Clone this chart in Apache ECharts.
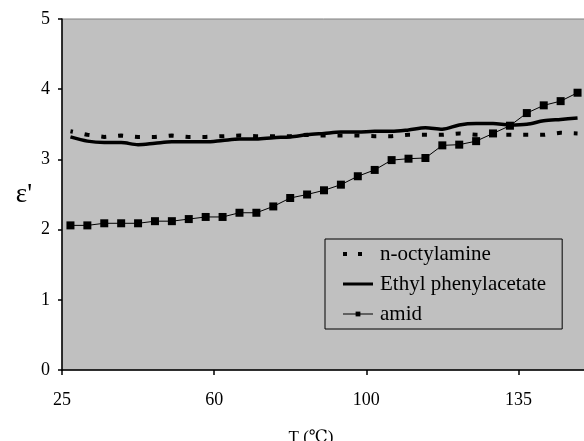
<!DOCTYPE html>
<html>
<head>
<meta charset="utf-8">
<script src="https://cdn.jsdelivr.net/npm/echarts@6/dist/echarts.min.js"></script>
<style>
  html, body { margin: 0; padding: 0; background: #fff; }
  #chart { width: 584px; height: 441px; }
</style>
</head>
<body>
<div id="chart"></div>
<script>
// x tick labels sit on the band boundaries 0, 9, 18, 27 (31 measurement points)
const TICK_LABELS = ['25', '60', '100', '135'];
const TICK_STEP = 9;
const POINT_COUNT = 31;

const OCTYLAMINE = [3.40, 3.35, 3.32, 3.34, 3.32, 3.32, 3.34, 3.32, 3.32, 3.33, 3.34,
  3.33, 3.33, 3.33, 3.35, 3.34, 3.34, 3.34, 3.33, 3.33, 3.35, 3.35, 3.35, 3.37,
  3.35, 3.35, 3.35, 3.35, 3.35, 3.38, 3.37];
const ETHYL = [3.32, 3.26, 3.24, 3.24, 3.21, 3.23, 3.25, 3.25, 3.25, 3.27, 3.29,
  3.29, 3.31, 3.32, 3.35, 3.37, 3.39, 3.39, 3.40, 3.40, 3.42, 3.45, 3.43, 3.49,
  3.51, 3.51, 3.49, 3.50, 3.55, 3.57, 3.59];
const AMID = [2.06, 2.06, 2.09, 2.09, 2.09, 2.12, 2.12, 2.15, 2.18, 2.18, 2.24,
  2.24, 2.33, 2.45, 2.50, 2.56, 2.64, 2.76, 2.85, 2.99, 3.01, 3.02, 3.20, 3.21,
  3.26, 3.37, 3.48, 3.66, 3.77, 3.83, 3.95];

const FONT = "'Liberation Serif', 'DejaVu Serif', serif";

// each point is drawn at the centre of its band
const toPoints = (arr) => arr.map((v, i) => [i + 0.5, v]);

const chart = echarts.init(document.getElementById('chart'), null, { renderer: 'canvas' });
chart.setOption({
  animation: false,
  backgroundColor: '#fff',
  grid: {
    left: 62, right: -2, top: 19, bottom: 71,
    outerBoundsMode: 'none',
    containLabel: false,
    show: true,
    backgroundColor: '#c0c0c0',
    borderColor: '#808080',
    borderWidth: 1
  },
  legend: {
    orient: 'vertical',
    left: 325,
    top: 239,
    padding: [4, 16, 4, 16],
    itemGap: 8,
    itemWidth: 30,
    itemHeight: 6,
    backgroundColor: '#c0c0c0',
    borderColor: '#000',
    borderWidth: 1,
    borderRadius: 0,
    textStyle: { fontFamily: FONT, fontSize: 21, color: '#000', lineHeight: 22, padding: [0, 0, 0, 2] },
    data: [
      {
        name: 'n-octylamine',
        itemStyle: { opacity: 0 },
        lineStyle: { type: [4, 11], dashOffset: 0, width: 4 }
      },
      { name: 'Ethyl phenylacetate', itemStyle: { opacity: 0 }, lineStyle: { width: 3 } },
      { name: 'amid', lineStyle: { width: 1 } }
    ]
  },
  xAxis: {
    type: 'value',
    min: 0,
    max: POINT_COUNT,
    interval: TICK_STEP,
    name: 'T (℃)',
    nameLocation: 'middle',
    nameGap: 59,
    nameTextStyle: { fontFamily: FONT, fontSize: 17, color: '#000', padding: [0, 26, 0, 0] },
    axisLine: { lineStyle: { color: '#000', width: 1.5 } },
    axisTick: { length: 5, lineStyle: { color: '#000', width: 1.5 } },
    axisLabel: {
      fontFamily: FONT, fontSize: 18, color: '#000', margin: 21,
      showMaxLabel: false,
      formatter: (v) => TICK_LABELS[Math.round(v / TICK_STEP)] ?? ''
    },
    splitLine: { show: false }
  },
  yAxis: {
    type: 'value',
    min: 0,
    max: 5,
    interval: 1,
    name: "ε'",
    nameLocation: 'middle',
    nameRotate: 0,
    nameGap: 30,
    nameTextStyle: { fontFamily: FONT, fontSize: 27, color: '#000' },
    axisLine: { show: true, lineStyle: { color: '#000', width: 1.5 } },
    axisTick: { show: true, length: 4, lineStyle: { color: '#000', width: 1.5 } },
    axisLabel: { fontFamily: FONT, fontSize: 18, color: '#000', margin: 12 },
    splitLine: { show: false }
  },
  series: [
    {
      name: 'n-octylamine',
      type: 'line',
      symbol: 'none',
      data: toPoints(OCTYLAMINE),
      itemStyle: { color: '#000' },
      lineStyle: { color: '#000', width: 4, type: [5, 11.9], dashOffset: 2.5 },
      z: 2
    },
    {
      name: 'Ethyl phenylacetate',
      type: 'line',
      symbol: 'none',
      smooth: 0.3,
      data: toPoints(ETHYL),
      itemStyle: { color: '#000' },
      lineStyle: { color: '#000', width: 3.5 },
      z: 3
    },
    {
      name: 'amid',
      type: 'line',
      symbol: 'rect',
      symbolSize: 8,
      data: toPoints(AMID),
      itemStyle: { color: '#000' },
      lineStyle: { color: '#000', width: 1 },
      z: 4
    }
  ]
});
</script>
</body>
</html>
